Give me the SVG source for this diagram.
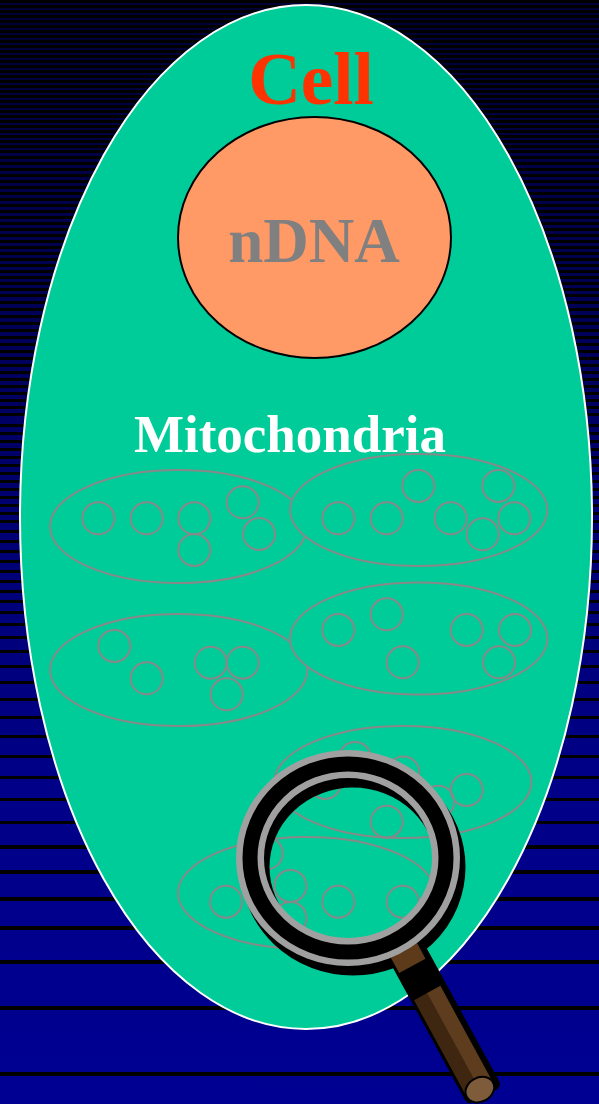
<svg xmlns="http://www.w3.org/2000/svg" width="599" height="1104" viewBox="0 0 599 1104">
  <defs>
    <linearGradient id="bg" x1="0" y1="0" x2="0" y2="1">
      <stop offset="0" stop-color="#000035"/>
      <stop offset="0.3" stop-color="#000058"/>
      <stop offset="0.5" stop-color="#000076"/>
      <stop offset="0.72" stop-color="#000088"/>
      <stop offset="1" stop-color="#000092"/>
    </linearGradient>
    <pattern id="p5" width="599" height="5" patternUnits="userSpaceOnUse"><rect width="599" height="3" fill="#000"/></pattern>
    <pattern id="p6" width="599" height="6" patternUnits="userSpaceOnUse"><rect width="599" height="3" fill="#000"/></pattern>
    <pattern id="p7" width="599" height="7" patternUnits="userSpaceOnUse"><rect width="599" height="3" fill="#000"/></pattern>
    <pattern id="p8" width="599" height="8" patternUnits="userSpaceOnUse"><rect width="599" height="3" fill="#000"/></pattern>
    <pattern id="p10" width="599" height="10" patternUnits="userSpaceOnUse"><rect width="599" height="3" fill="#000"/></pattern>
    <style>
      .lbl { font-family: "Liberation Serif", "Times New Roman", serif; font-weight: bold; text-anchor: middle; }
      .mito { fill: #00CC99; stroke: #888888; stroke-width: 2; }
      .mito circle { fill: none; stroke: #888888; stroke-width: 2; }
      .band { fill: #000; }
    </style>
  </defs>

  <!-- striped background -->
  <g id="background">
    <rect width="599" height="1104" fill="url(#bg)"/>
    <rect y="0" width="599" height="150" fill="url(#p5)"/>
    <rect y="150" width="599" height="150" fill="url(#p6)"/>
    <rect y="300" width="599" height="120" fill="url(#p7)"/>
    <rect y="420" width="599" height="100" fill="url(#p8)"/>
    <rect y="520" width="599" height="80" fill="url(#p10)"/>
    <g class="band">
      <rect y="600" width="599" height="3"/>
      <rect y="611" width="599" height="3"/>
      <rect y="623" width="599" height="3"/>
      <rect y="636" width="599" height="3"/>
      <rect y="650" width="599" height="3"/>
      <rect y="665" width="599" height="3"/>
      <rect y="681" width="599" height="3"/>
      <rect y="698" width="599" height="3"/>
      <rect y="716" width="599" height="3"/>
      <rect y="735" width="599" height="3"/>
      <rect y="755" width="599" height="3"/>
      <rect y="776" width="599" height="3"/>
      <rect y="798" width="599" height="3"/>
      <rect y="821" width="599" height="3"/>
      <rect y="845" width="599" height="4"/>
      <rect y="870" width="599" height="4"/>
      <rect y="897" width="599" height="4"/>
      <rect y="926" width="599" height="4"/>
      <rect y="960" width="599" height="4"/>
      <rect y="1006" width="599" height="4"/>
      <rect y="1072" width="599" height="4"/>
    </g>
  </g>

  <!-- cell body -->
  <g id="cell">
    <ellipse cx="306" cy="517" rx="286" ry="512" fill="#00CC99" stroke="#FFFFFF" stroke-width="2"/>
    <text class="lbl" x="311" y="104" font-size="73" fill="#FF3300">Cell</text>
  </g>

  <!-- nucleus -->
  <g id="nucleus">
    <ellipse cx="314.5" cy="237.5" rx="136.5" ry="120.5" fill="#FF9966" stroke="#000" stroke-width="2"/>
    <text class="lbl" x="314" y="262" font-size="63" fill="#808080">nDNA</text>
  </g>

  <g id="mito-label">
    <text class="lbl" x="290" y="452" font-size="53" fill="#FFFFFF">Mitochondria</text>
  </g>

  <!-- mitochondria, each an outlined body holding small DNA rings -->
  <g id="mito1" class="mito">
    <ellipse cx="178.5" cy="526.5" rx="128.5" ry="56.5"/>
    <circle cx="98.3" cy="518.3" r="16"/>
    <circle cx="146.7" cy="518.3" r="16"/>
    <circle cx="194.3" cy="518.3" r="16"/>
    <circle cx="194.3" cy="550" r="16"/>
    <circle cx="242.7" cy="502.3" r="16"/>
    <circle cx="259" cy="534" r="16"/>
  </g>
  <g id="mito2" class="mito">
    <ellipse cx="418.7" cy="510" rx="128.7" ry="56"/>
    <circle cx="338.3" cy="518.3" r="16"/>
    <circle cx="386.7" cy="518.3" r="16"/>
    <circle cx="418.3" cy="486" r="16"/>
    <circle cx="450.7" cy="518.3" r="16"/>
    <circle cx="482.7" cy="534.3" r="16"/>
    <circle cx="498.3" cy="486" r="16"/>
    <circle cx="514.3" cy="518.3" r="16"/>
  </g>
  <g id="mito3" class="mito">
    <ellipse cx="178.7" cy="670" rx="128.7" ry="56"/>
    <circle cx="114.3" cy="646" r="16"/>
    <circle cx="146.7" cy="678.3" r="16"/>
    <circle cx="210.7" cy="662.7" r="16"/>
    <circle cx="242.7" cy="662.7" r="16"/>
    <circle cx="226.7" cy="694.3" r="16"/>
  </g>
  <g id="mito4" class="mito">
    <ellipse cx="418.7" cy="638.5" rx="128.7" ry="56"/>
    <circle cx="338.3" cy="630" r="16"/>
    <circle cx="386.7" cy="614.3" r="16"/>
    <circle cx="402.7" cy="662.3" r="16"/>
    <circle cx="466.7" cy="630" r="16"/>
    <circle cx="515" cy="630" r="16"/>
    <circle cx="499" cy="662.3" r="16"/>
  </g>
  <g id="mito5" class="mito">
    <ellipse cx="403" cy="782" rx="128.5" ry="56"/>
    <circle cx="325" cy="783" r="16"/>
    <circle cx="355" cy="758" r="16"/>
    <circle cx="403.3" cy="772.5" r="16"/>
    <circle cx="438.3" cy="801.7" r="16"/>
    <circle cx="466.7" cy="790" r="16"/>
    <circle cx="386.7" cy="821.7" r="16"/>
  </g>
  <g id="mito6" class="mito">
    <ellipse cx="306.5" cy="893" rx="128.5" ry="56" fill="none"/>
    <circle cx="226" cy="901.7" r="16"/>
    <circle cx="266.7" cy="853.3" r="16"/>
    <circle cx="290.5" cy="886" r="16"/>
    <circle cx="290.5" cy="918" r="16"/>
    <circle cx="338.3" cy="901.7" r="16"/>
    <circle cx="402.7" cy="901.7" r="16"/>
  </g>

  <!-- magnifying glass -->
  <g id="magnifier">
    <!-- drop shadow of the rim -->
    <ellipse cx="353" cy="867" rx="98" ry="94" fill="none" stroke="#000" stroke-width="29"/>
    <!-- handle, laid out along its own axis -->
    <g transform="translate(349,858) rotate(61.4)">
      <rect x="96" y="-25" width="178" height="39" rx="6" fill="#000"/>
      <rect x="101" y="-19" width="24" height="30" fill="#5C3A1A"/>
      <ellipse cx="101" cy="-4" rx="7" ry="15" fill="#6B4526" stroke="#2A1808" stroke-width="1"/>
      <rect x="156" y="-19" width="110" height="16" fill="#5E3C1E"/>
      <rect x="156" y="-4" width="110" height="15" fill="#3F2610"/>
      <ellipse cx="266" cy="-4" rx="12" ry="15" fill="#7E5B3B" stroke="#000" stroke-width="2"/>
    </g>
    <!-- rim: grey edges around a black core -->
    <ellipse cx="348" cy="858" rx="98" ry="94" fill="none" stroke="#A0A0A0" stroke-width="28"/>
    <ellipse cx="348" cy="858" rx="98" ry="94" fill="none" stroke="#000" stroke-width="15"/>
  </g>
</svg>
